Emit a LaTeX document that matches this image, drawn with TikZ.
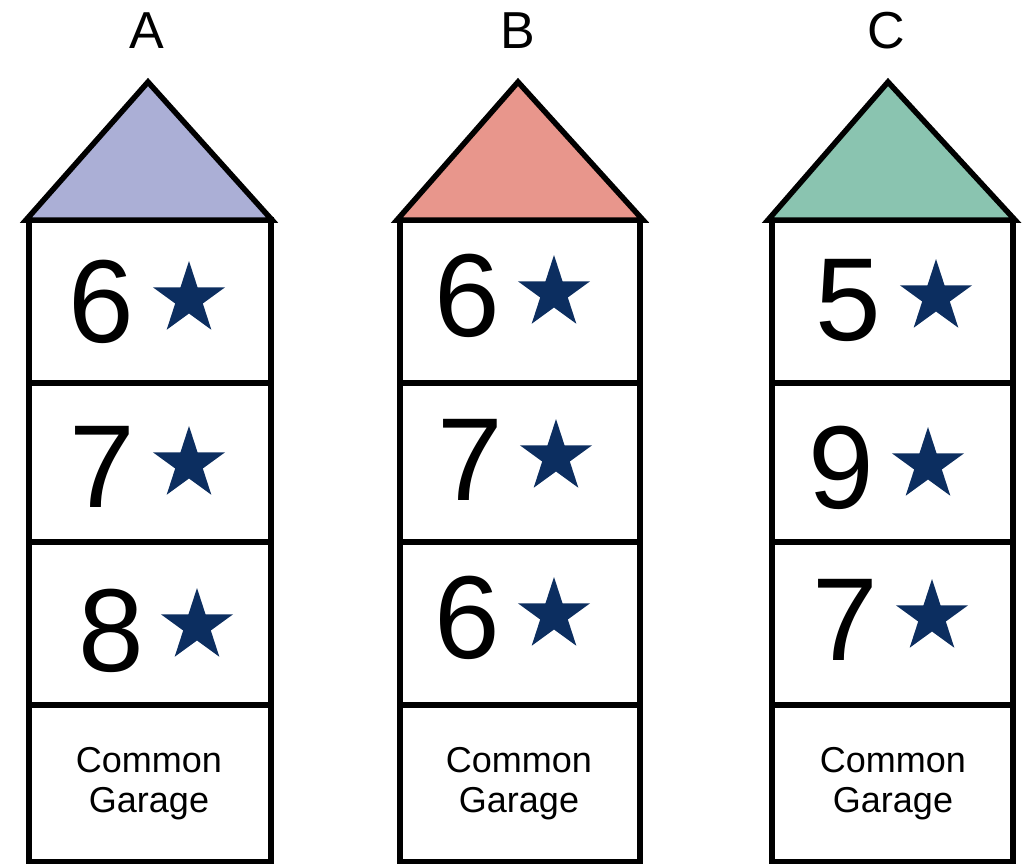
\documentclass[tikz,border=0pt]{standalone}
\usepackage{fontspec}
\setmainfont{Liberation Sans}
\usetikzlibrary{shapes.geometric}
\definecolor{roofA}{RGB}{171,175,214}
\definecolor{roofB}{RGB}{232,150,140}
\definecolor{roofC}{RGB}{138,196,176}
\definecolor{starnavy}{RGB}{12,46,96}
\begin{document}
\begin{tikzpicture}[
    x=1pt, y=-1pt,
    line join=miter,
    wall/.style={draw=black,line width=5.5pt},
    roof/.style={draw=black,line width=5.5pt},
    digit/.style={inner sep=0pt,font=\fontsize{118}{118}\selectfont},
    starmark/.style={star,star points=5,star point ratio=2.618,
        fill=starnavy,draw=none,inner sep=0pt,minimum size=76pt},
    garage/.style={inner sep=0pt,align=center,
        font=\fontsize{36}{40}\selectfont},
    tag/.style={inner sep=0pt,font=\fontsize{52}{52}\selectfont}
]
    \useasboundingbox (0,0) rectangle (1023,864);

    % Tower A
    \draw[wall] (29,220) rectangle (271,862);
    \draw[wall] (29,383) -- (271,383) (29,542) -- (271,542) (29,705) -- (271,705);
    \draw[roof,fill=roofA] (26,220) -- (148,82) -- (272,220) -- cycle;
    \node[tag] (labA) at (147,31) {A};
    \node[digit] (a1) at (101,302) {6};
    \node[starmark] (a1s) at (189,299) {};
    \node[digit] (a2) at (102,467) {7};
    \node[starmark] (a2s) at (189,464) {};
    \node[digit] (a3) at (111,631) {8};
    \node[starmark] (a3s) at (197,626) {};
    \node[garage] (gA) at (149,784) {Common\\Garage};

    % Tower B
    \draw[wall] (400,220) rectangle (640,862);
    \draw[wall] (400,383) -- (640,383) (400,542) -- (640,542) (400,705) -- (640,705);
    \draw[roof,fill=roofB] (397,220) -- (518,82) -- (643,220) -- cycle;
    \node[tag] (labB) at (518,31) {B};
    \node[digit] (b1) at (467,296) {6};
    \node[starmark] (b1s) at (554,293) {};
    \node[digit] (b2) at (470,460) {7};
    \node[starmark] (b2s) at (556,457) {};
    \node[digit] (b3) at (467,618) {6};
    \node[starmark] (b3s) at (554,615) {};
    \node[garage] (gB) at (519,784) {Common\\Garage};

    % Tower C
    \draw[wall] (772,220) rectangle (1013,862);
    \draw[wall] (772,383) -- (1013,383) (772,542) -- (1013,542) (772,705) -- (1013,705);
    \draw[roof,fill=roofC] (768,220) -- (888,82) -- (1015,220) -- cycle;
    \node[tag] (labC) at (886,31) {C};
    \node[digit] (c1) at (848,300) {5};
    \node[starmark] (c1s) at (936,297) {};
    \node[digit] (c2) at (841,468) {9};
    \node[starmark] (c2s) at (928,465) {};
    \node[digit] (c3) at (845,620) {7};
    \node[starmark] (c3s) at (932,617) {};
    \node[garage] (gC) at (893,784) {Common\\Garage};
\end{tikzpicture}
\end{document}
